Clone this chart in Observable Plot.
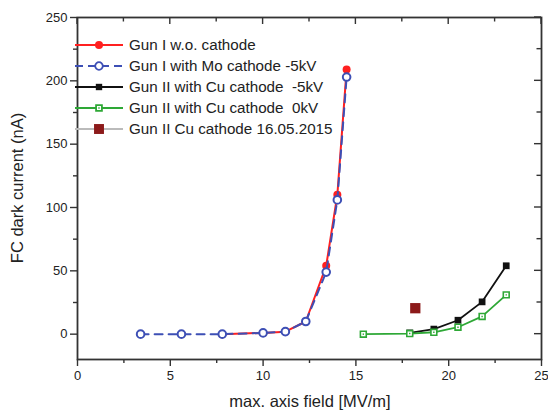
<!DOCTYPE html>
<html>
<head>
<meta charset="utf-8">
<script src="https://cdn.jsdelivr.net/npm/d3@7"></script>
<script src="https://cdn.jsdelivr.net/npm/@observablehq/plot@0.6"></script>
<style>
  body { margin: 0; background: white; }
  #chart { position: relative; width: 548px; height: 411px; }
  svg { font-family: "Liberation Sans", Arial, sans-serif; }
</style>
</head>
<body>
<div id="chart"></div>
<script>
// Data
const redX = [7.8, 10.0, 11.2, 12.3, 13.4, 14.0, 14.5];
const redY = [0, 1, 2, 10, 54, 110, 209];
const blueX = [3.4, 5.6, 7.8, 10.0, 11.2, 12.3, 13.4, 14.0, 14.5];
const blueY = [0, 0, 0, 1, 2, 10, 49, 106, 203];
const blackX = [17.9, 19.2, 20.5, 21.8, 23.1];
const blackY = [1, 4, 11, 25.5, 54];
const greenX = [15.4, 17.9, 19.2, 20.5, 21.8, 23.1];
const greenY = [0, 0.5, 1.5, 5.5, 14, 31];
const singleX = [18.2];
const singleY = [20.5];
const seriesNames = [
  "Gun I w.o. cathode",
  "Gun I with Mo cathode -5kV",
  "Gun II with Cu cathode  -5kV",
  "Gun II with Cu cathode  0kV",
  "Gun II Cu cathode 16.05.2015"
];
const xTicks = [0, 5, 10, 15, 20, 25];
const xMinor = [2.5, 7.5, 12.5, 17.5, 22.5];
const yTicks = [0, 50, 100, 150, 200, 250];
const yMinor = [25, 75, 125, 175, 225];

const RED = "#ff2020", BLUE = "#3d4fb5", GREEN = "#2ea836", DARKRED = "#8c1a1a";

const zip = (xs, ys) => xs.map((x, i) => ({x, y: ys[i]}));
const red = zip(redX, redY), blue = zip(blueX, blueY), black = zip(blackX, blackY),
      green = zip(greenX, greenY), single = zip(singleX, singleY);

const AX = "#333";
const plot = Plot.plot({
  width: 548,
  height: 411,
  marginLeft: 77,
  marginRight: 7,
  marginTop: 17,
  marginBottom: 52,
  style: {fontFamily: '"Liberation Sans", Arial, sans-serif', fontSize: "13px", color: "#222"},
  x: {domain: [0, 25]},
  y: {domain: [-20, 250]},
  marks: [
    Plot.axisX({ticks: xTicks, tickSize: 7, tickPadding: 4, fontSize: 13, label: null, stroke: AX, strokeWidth: 1.4}),
    Plot.axisX({ticks: xMinor, tickSize: 4, text: null, label: null, stroke: AX, strokeWidth: 1.4}),
    Plot.axisY({ticks: yTicks, tickSize: 7, tickPadding: 3, fontSize: 13, label: null, stroke: AX, strokeWidth: 1.4}),
    Plot.axisY({ticks: yMinor, tickSize: 4, text: null, label: null, stroke: AX, strokeWidth: 1.4}),
    Plot.frame({stroke: AX, strokeWidth: 1.8}),
    Plot.line(red, {x: "x", y: "y", stroke: RED, strokeWidth: 2}),
    Plot.dot(red, {x: "x", y: "y", fill: RED, r: 4}),
    Plot.line(blue, {x: "x", y: "y", stroke: BLUE, strokeWidth: 2, strokeDasharray: "8,6"}),
    Plot.dot(blue, {x: "x", y: "y", fill: "white", stroke: BLUE, strokeWidth: 2, r: 3.8}),
    Plot.line(black, {x: "x", y: "y", stroke: "#111", strokeWidth: 1.8}),
    Plot.dot(black, {x: "x", y: "y", fill: "#111", symbol: "square", r: 3.8}),
    Plot.line(green, {x: "x", y: "y", stroke: GREEN, strokeWidth: 1.8}),
    Plot.dot(green, {x: "x", y: "y", fill: "white", stroke: GREEN, strokeWidth: 1.6, symbol: "square", r: 3.3}),
    Plot.dot(green, {x: "x", y: "y", fill: GREEN, symbol: "square", r: 0.8}),
    Plot.dot(single, {x: "x", y: "y", fill: DARKRED, symbol: "square", r: 5.8})
  ]
});

document.getElementById("chart").appendChild(plot);

const svg = d3.select(plot);
const sx = plot.scale("x"), sy = plot.scale("y");
const plotRight = Math.max(...sx.range), plotTop = Math.min(...sy.range);

// Inward ticks on top and right (mirror axes), placed with Plot's scales
const mirror = svg.append("g").attr("stroke", AX).attr("stroke-width", 1.4);
[[xTicks, 7], [xMinor, 4.5]].forEach(([ticks, len]) => {
  ticks.forEach(v => {
    const px = sx.apply(v);
    mirror.append("line").attr("x1", px).attr("x2", px).attr("y1", plotTop).attr("y2", plotTop + len);
  });
});
[[yTicks, 7], [yMinor, 4.5]].forEach(([ticks, len]) => {
  ticks.forEach(v => {
    const py = sy.apply(v);
    mirror.append("line").attr("x1", plotRight).attr("x2", plotRight - len).attr("y1", py).attr("y2", py);
  });
});

// Axis titles
svg.append("text")
  .attr("x", 310).attr("y", 407)
  .attr("text-anchor", "middle").attr("font-size", 16.5).attr("fill", "#222")
  .text("max. axis field [MV/m]");
svg.append("text")
  .attr("transform", `translate(17,188) rotate(-90)`)
  .attr("text-anchor", "middle").attr("dy", "0.35em").attr("font-size", 16.5).attr("fill", "#222")
  .text("FC dark current (nA)");

// Legend
const legendStyles = [
  {stroke: RED, dash: null, sym: "circle", fill: RED, mstroke: "none", size: 4},
  {stroke: BLUE, dash: "8,5", sym: "circle", fill: "white", mstroke: BLUE, size: 3.8},
  {stroke: "#111", dash: null, sym: "square", fill: "#111", mstroke: "none", size: 3.6},
  {stroke: GREEN, dash: null, sym: "square", fill: "white", mstroke: GREEN, size: 3.3},
  {stroke: "#bbb", dash: null, sym: "square", fill: DARKRED, mstroke: "none", size: 5.6}
];
const lg = svg.append("g").attr("class", "legend");
seriesNames.forEach((name, i) => {
  const st = legendStyles[i];
  const yy = 45 + i * 21;
  const g = lg.append("g").attr("transform", `translate(0,${yy})`);
  g.append("line").attr("x1", 75).attr("x2", 123).attr("y1", 0).attr("y2", 0)
    .attr("stroke", st.stroke).attr("stroke-width", 2).attr("stroke-dasharray", st.dash);
  const symbol = d3.symbol(st.sym === "circle" ? d3.symbolCircle : d3.symbolSquare, Math.PI * st.size * st.size);
  g.append("path").attr("d", symbol()).attr("transform", "translate(99,0)")
    .attr("fill", st.fill).attr("stroke", st.mstroke).attr("stroke-width", st.mstroke === "none" ? 0 : 1.8);
  if (i === 3) {
    g.append("path").attr("d", d3.symbol(d3.symbolSquare, Math.PI * 0.64)()).attr("transform", "translate(99,0)").attr("fill", GREEN);
  }
  g.append("text").attr("x", 129).attr("y", 0).attr("dy", "0.35em").attr("text-anchor", "start")
    .attr("font-size", 15.2).attr("fill", "#222").text(name);
});
</script>
</body>
</html>
